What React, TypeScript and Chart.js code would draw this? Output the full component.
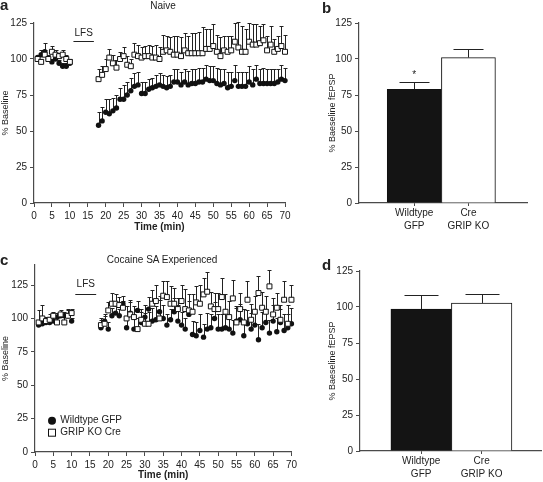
import React, { useEffect, useRef } from "react";
import { Chart, registerables } from "chart.js";

Chart.register(...registerables);

const FONT = "'Liberation Sans', Arial, Helvetica, sans-serif";
const TEXT = "#222";
const AXIS = "#4a4a4a";
const MARK = "#111";

// ---------- data ----------
const timeMinutes = [
  1, 2, 3, 4, 5, 6, 7, 8, 9, 10,
  18, 19, 20, 21, 22, 23, 24, 25, 26, 27, 28, 29, 30, 31, 32, 33, 34, 35, 36, 37,
  38, 39, 40, 41, 42, 43, 44, 45, 46, 47, 48, 49, 50, 51, 52, 53, 54, 55, 56, 57,
  58, 59, 60, 61, 62, 63, 64, 65, 66, 67, 68, 69, 70,
];
const timeTicks = [0, 5, 10, 15, 20, 25, 30, 35, 40, 45, 50, 55, 60, 65, 70];
const percentTicks = [0, 25, 50, 75, 100, 125];
const lfsWindow = [11, 16.7];

const naiveWildtype = [
  101, 103, 105, 100, 98, 100, 97, 95, 95, 97,
  54, 57, 63, 62, 64, 66, 72, 72, 75, 78, 81, 82, 76, 76, 79, 80, 81, 82, 81, 80,
  81, 84, 84, 82, 84, 82, 83, 83, 84, 84, 86, 85, 85, 83, 82, 83, 80, 81, 85, 81,
  81, 81, 84, 82, 86, 83, 83, 83, 83, 83, 84, 86, 85,
];
const naiveWildtypeSem = [
  2, 3, 6, 3, 2, 2, 2, 2, 2, 2,
  9, 10, 9, 10, 9, 9, 8, 10, 9, 9, 9, 9, 8, 8, 7, 7, 8, 8, 8, 8,
  8, 9, 9, 9, 9, 10, 10, 10, 10, 10, 10, 10, 10, 11, 11, 10, 11, 10, 11, 10,
  10, 10, 11, 11, 10, 10, 11, 10, 10, 10, 9, 10, 9,
];
const naiveGripKo = [
  100, 98, 103, 100, 105, 103, 102, 103, 100, 98,
  86, 89, 93, 101, 97, 94, 100, 102, 96, 95, 103, 102, 101, 102, 102, 101, 101, 100, 105, 106,
  105, 103, 103, 102, 106, 104, 104, 104, 104, 104, 107, 107, 109, 105, 102, 106, 105, 106, 112, 108,
  105, 105, 112, 110, 110, 111, 113, 106, 110, 105, 107, 109, 105,
];
const naiveGripKoSem = [
  2, 2, 3, 3, 4, 3, 2, 3, 3, 2,
  7, 6, 7, 6, 6, 5, 5, 6, 6, 5, 8, 8, 7, 7, 8, 8, 9, 8, 12, 10,
  10, 13, 13, 13, 12, 12, 14, 14, 15, 18, 14, 14, 15, 12, 13, 10, 11, 10, 13, 18,
  18, 16, 13, 14, 14, 12, 11, 10, 13, 9, 9, 14, 12,
];

const cocaineWildtype = [
  95, 96, 97, 97, 98, 101, 102, 102, 102, 98,
  93, 98, 92, 102, 104, 102, 111, 93, 104, 92, 106, 97, 101, 107, 98, 99, 105, 100, 95, 99,
  105, 98, 95, 92, 103, 88, 87, 91, 86, 92, 93, 100, 92, 92, 93, 92, 89, 98, 99, 87,
  96, 92, 95, 84, 93, 97, 89, 98, 90, 97, 91, 93, 96,
];
const cocaineWildtypeSem = [
  2, 2, 2, 2, 3, 3, 3, 3, 4, 2,
  6, 5, 5, 6, 5, 5, 6, 8, 10, 8, 7, 10, 9, 9, 10, 10, 12, 10, 8, 8,
  10, 12, 10, 8, 10, 10, 10, 12, 10, 12, 10, 12, 11, 11, 11, 10, 10, 10, 12, 10,
  10, 12, 10, 12, 12, 10, 10, 12, 10, 10, 12, 10, 12,
];
const cocaineGripKo = [
  97, 100, 98, 99, 102, 97, 103, 97, 102, 104,
  95, 96, 106, 111, 111, 110, 108, 100, 103, 101, 92, 99, 96, 96, 111, 113, 100, 117, 116, 111,
  111, 107, 113, 107, 106, 105, 112, 111, 118, 120, 109, 107, 107, 116, 105, 101, 115, 97, 107, 97,
  114, 99, 105, 119, 108, 105, 124, 103, 108, 99, 114, 96, 114,
];
const cocaineGripKoSem = [
  9, 10, 3, 4, 3, 3, 3, 4, 5, 3,
  5, 6, 6, 8, 7, 6, 5, 9, 9, 8, 8, 6, 8, 9, 10, 12, 14, 11, 12, 13,
  12, 8, 12, 15, 12, 13, 12, 14, 12, 15, 11, 12, 12, 14, 13, 12, 14, 12, 12, 10,
  14, 12, 12, 13, 12, 12, 12, 12, 11, 11, 14, 14, 11,
];

const barCategories = [["Wildtype", "GFP"], ["Cre", "GRIP KO"]];
const naiveBarMeans = [79, 101];
const naiveBarSem = [5, 6];
const cocaineBarMeans = [98.5, 102.8];
const cocaineBarSem = [9.5, 6.5];
const legendLabels = ["Wildtype GFP", "GRIP KO Cre"];

// ---------- plugins ----------
function drawSem(chart: any, overBars: boolean) {
  const { ctx } = chart;
  const yScale = chart.scales.y;
  chart.data.datasets.forEach((ds: any, i: number) => {
    if (!ds.sem) return;
    const isBar = chart.config.type === "bar";
    if (isBar !== overBars) return;
    const meta = chart.getDatasetMeta(i);
    ctx.save();
    ctx.strokeStyle = "#222";
    ctx.lineWidth = 1;
    meta.data.forEach((el: any, j: number) => {
      const raw = ds.data[j];
      const v = typeof raw === "number" ? raw : raw.y;
      const x = Math.round(el.x) + 0.5;
      const yBase = yScale.getPixelForValue(v);
      const yTop = Math.round(yScale.getPixelForValue(v + ds.sem[j])) + 0.5;
      const cap = ds.semCap ?? 2;
      ctx.beginPath();
      ctx.moveTo(x, yBase);
      ctx.lineTo(x, yTop);
      ctx.moveTo(x - cap, yTop);
      ctx.lineTo(x + cap, yTop);
      ctx.stroke();
    });
    ctx.restore();
  });
}

const semPlugin = {
  id: "semBars",
  beforeDatasetsDraw(chart: any) {
    drawSem(chart, false);
  },
  afterDatasetsDraw(chart: any) {
    drawSem(chart, true);
  },
};

const lfsPlugin = (lineY: number, textY: number) => ({
  id: "lfs",
  afterDraw(chart: any) {
    const { ctx } = chart;
    const { x, y } = chart.scales;
    const x1 = x.getPixelForValue(lfsWindow[0]);
    const x2 = x.getPixelForValue(lfsWindow[1]);
    const py = Math.round(y.getPixelForValue(lineY)) + 0.5;
    ctx.save();
    ctx.strokeStyle = "#222";
    ctx.lineWidth = 1;
    ctx.beginPath();
    ctx.moveTo(x1, py);
    ctx.lineTo(x2, py);
    ctx.stroke();
    ctx.fillStyle = TEXT;
    ctx.font = `10px ${FONT}`;
    ctx.textAlign = "center";
    ctx.textBaseline = "middle";
    ctx.fillText("LFS", (x1 + x2) / 2, y.getPixelForValue(textY));
    ctx.restore();
  },
});

const legendPlugin = {
  id: "cornerLegend",
  afterDraw(chart: any) {
    const { ctx, chartArea } = chart;
    const mx = chartArea.left + 17;
    const y1 = chartArea.bottom - 31.3;
    const y2 = chartArea.bottom - 19.3;
    ctx.save();
    ctx.fillStyle = MARK;
    ctx.beginPath();
    ctx.arc(mx, y1, 4, 0, Math.PI * 2);
    ctx.fill();
    ctx.fillStyle = "#fff";
    ctx.strokeStyle = MARK;
    ctx.lineWidth = 1;
    ctx.fillRect(mx - 3.5, y2 - 3.5, 7, 7);
    ctx.strokeRect(mx - 3.5, y2 - 3.5, 7, 7);
    ctx.fillStyle = TEXT;
    ctx.font = `10px ${FONT}`;
    ctx.textAlign = "left";
    ctx.textBaseline = "middle";
    ctx.fillText(legendLabels[0], mx + 8.3, y1);
    ctx.fillText(legendLabels[1], mx + 8.3, y2);
    ctx.restore();
  },
};

const asteriskPlugin = {
  id: "asterisk",
  afterDraw(chart: any) {
    const { ctx } = chart;
    const { x, y } = chart.scales;
    ctx.save();
    ctx.fillStyle = TEXT;
    ctx.font = `10px ${FONT}`;
    ctx.textAlign = "center";
    ctx.textBaseline = "alphabetic";
    ctx.fillText("*", x.getPixelForValue(0), y.getPixelForValue(87));
    ctx.restore();
  },
};

// ---------- config builders ----------
const tickFont = { family: FONT, size: 10 };
const gridOpts = { drawOnChartArea: false, drawTicks: true, tickLength: 4, color: AXIS, lineWidth: 1 };
const borderOpts = { display: true, color: AXIS, width: 1.2 };

function yAxis(max: number, width: number, title: string, titlePad: number) {
  return {
    min: 0,
    max,
    afterBuildTicks: (s: any) => {
      s.ticks = percentTicks.map((v) => ({ value: v }));
    },
    ticks: { font: tickFont, color: TEXT, padding: 3 },
    grid: gridOpts,
    border: borderOpts,
    title: {
      display: true,
      text: title,
      font: { family: FONT, size: 9 },
      color: TEXT,
      padding: { top: titlePad, bottom: 0 },
    },
    afterFit: (s: any) => {
      s.width = width;
    },
  };
}

function scatterConfig(
  wt: number[], wtSem: number[], ko: number[], koSem: number[],
  yMax: number, yWidth: number, xHeight: number, padding: any, plugins: any[]
) {
  return {
    type: "scatter",
    data: {
      datasets: [
        {
          label: legendLabels[1],
          data: timeMinutes.map((t, i) => ({ x: t, y: ko[i] })),
          sem: koSem,
          pointStyle: "rect",
          pointRadius: 3.5,
          backgroundColor: "#fff",
          borderColor: MARK,
          borderWidth: 1,
          clip: false,
        },
        {
          label: legendLabels[0],
          data: timeMinutes.map((t, i) => ({ x: t, y: wt[i] })),
          sem: wtSem,
          pointStyle: "circle",
          pointRadius: 2.7,
          backgroundColor: MARK,
          borderColor: MARK,
          borderWidth: 0,
          clip: false,
        },
      ],
    },
    options: {
      responsive: false,
      animation: false,
      events: [],
      layout: { padding },
      plugins: { legend: { display: false }, tooltip: { enabled: false } },
      scales: {
        x: {
          type: "linear",
          min: timeTicks[0],
          max: timeTicks[timeTicks.length - 1],
          afterBuildTicks: (s: any) => {
            s.ticks = timeTicks.map((v) => ({ value: v }));
          },
          ticks: { font: tickFont, color: TEXT, padding: 3, autoSkip: false, maxRotation: 0 },
          grid: gridOpts,
          border: borderOpts,
          title: {
            display: true,
            text: "Time (min)",
            font: { family: FONT, size: 10, weight: "bold" },
            color: TEXT,
            padding: { top: 0, bottom: 1 },
          },
          afterFit: (s: any) => {
            s.height = xHeight;
          },
        },
        y: yAxis(yMax, yWidth, "% Baseline", 0.5),
      },
    },
    plugins: [semPlugin, ...plugins],
  };
}

function barConfig(
  means: number[], sem: number[], xMin: number, xMax: number, barWidth: number,
  cap: number, yWidth: number, xHeight: number, padding: any, plugins: any[]
) {
  return {
    type: "bar",
    data: {
      datasets: [
        {
          data: means.map((m, i) => ({ x: i, y: m })),
          sem,
          semCap: cap,
          backgroundColor: ["#141414", "#ffffff"],
          borderColor: "#111",
          borderWidth: 1,
          borderSkipped: "bottom",
          barThickness: barWidth,
        },
      ],
    },
    options: {
      responsive: false,
      animation: false,
      events: [],
      layout: { padding },
      plugins: { legend: { display: false }, tooltip: { enabled: false } },
      scales: {
        x: {
          type: "linear",
          min: xMin,
          max: xMax,
          offset: false,
          afterBuildTicks: (s: any) => {
            s.ticks = barCategories.map((_, i) => ({ value: i }));
          },
          ticks: {
            font: { family: FONT, size: 10, lineHeight: 1.3 },
            color: TEXT,
            padding: 1,
            autoSkip: false,
            maxRotation: 0,
            callback: (v: any) => barCategories[v] ?? "",
          },
          grid: { ...gridOpts, tickLength: 3, offset: false },
          border: borderOpts,
          afterFit: (s: any) => {
            s.height = xHeight;
          },
        },
        y: yAxis(125, yWidth, "% Baeseline fEPSP", 4.5),
      },
    },
    plugins: [semPlugin, ...plugins],
  };
}

// ---------- components ----------
function ChartPanel({ left, top, width, height, config }: any) {
  const ref = useRef<HTMLCanvasElement | null>(null);
  useEffect(() => {
    if (!ref.current) return;
    const chart = new Chart(ref.current, config);
    return () => chart.destroy();
  }, []);
  return (
    <canvas
      ref={ref}
      width={width}
      height={height}
      style={{ position: "absolute", left, top, width, height }}
    />
  );
}

function Label({ text, left, top, size, bold, center }: any) {
  return (
    <div
      style={{
        position: "absolute",
        left,
        top,
        fontSize: size,
        lineHeight: `${size}px`,
        fontWeight: bold ? "bold" : "normal",
        fontFamily: FONT,
        color: TEXT,
        whiteSpace: "nowrap",
        transform: center ? "translateX(-50%)" : undefined,
      }}
    >
      {text}
    </div>
  );
}

export default function App() {
  const cfgA = scatterConfig(
    naiveWildtype, naiveWildtypeSem, naiveGripKo, naiveGripKoSem,
    125, 34, 31, { top: 23, right: 15, bottom: 0, left: 0 }, [lfsPlugin(112.7, 117.6)]
  );
  const cfgB = barConfig(
    naiveBarMeans, naiveBarSem, -1.018, 2.08, 54, 15, 36, 31,
    { top: 23, right: 16, bottom: 0, left: 0 }, [asteriskPlugin]
  );
  const cfgC = scatterConfig(
    cocaineWildtype, cocaineWildtypeSem, cocaineGripKo, cocaineGripKoSem,
    140, 35, 30, { top: 15, right: 7, bottom: 0, left: 0 }, [lfsPlugin(118.2, 125.3), legendPlugin]
  );
  const cfgD = barConfig(
    cocaineBarMeans, cocaineBarSem, -1.01, 1.98, 60.5, 17, 37, 31,
    { top: 21, right: 2, bottom: 0, left: 0 }, []
  );
  return (
    <div
      style={{
        position: "fixed",
        left: 0,
        top: 0,
        width: 543,
        height: 482,
        background: "#fff",
        overflow: "hidden",
      }}
    >
      <ChartPanel left={0} top={0} width={300} height={234} config={cfgA} />
      <ChartPanel left={323} top={0} width={220} height={234} config={cfgB} />
      <ChartPanel left={0} top={250} width={300} height={232} config={cfgC} />
      <ChartPanel left={323} top={250} width={220} height={232} config={cfgD} />
      <Label text="Naive" left={163} top={1} size={10} center />
      <Label text="Cocaine SA Experienced" left={162} top={255} size={10} center />
      <Label text="a" left={0} top={-3} size={15} bold />
      <Label text="b" left={322} top={0} size={15} bold />
      <Label text="c" left={0} top={252} size={15} bold />
      <Label text="d" left={322} top={257} size={15} bold />
    </div>
  );
}
